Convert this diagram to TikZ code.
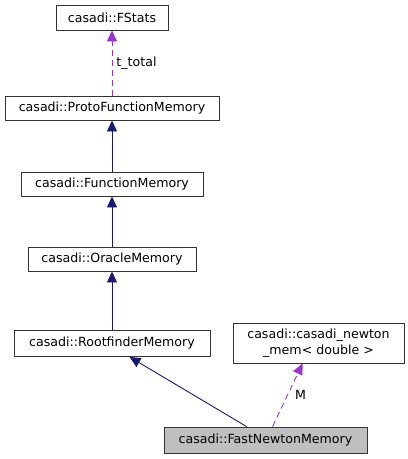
\documentclass[tikz,border=0pt]{standalone}
\usepackage{fontspec}
\setmainfont{DejaVu Sans}
\usetikzlibrary{arrows.meta,calc}
\definecolor{inh}{HTML}{191970}
\definecolor{use}{HTML}{9A32CD}
\definecolor{hl}{HTML}{BFBFBF}
\tikzset{
  cls/.style={draw=black!80, line width=0.9pt, inner sep=0pt, font=\fontsize{12.6}{15.5}\selectfont, align=center},
  inhedge/.style={draw=inh, line width=0.9pt, -{Triangle[length=11pt,width=10pt]}},
  useedge/.style={draw=use, line width=0.9pt, dash pattern=on 6pt off 4pt, -{Triangle[length=11pt,width=10pt]}},
  lbl/.style={font=\fontsize{12.6}{15}\selectfont, inner sep=1pt}
}
\begin{document}
\begin{tikzpicture}[x=1pt,y=-1pt]
\useasboundingbox (0,0) rectangle (408,459);
\node[cls, minimum width=112pt, minimum height=25pt] (fs) at (112,17.5) {casadi::FStats};
\node[cls, minimum width=214pt, minimum height=24pt] (pf) at (112,108) {casadi::ProtoFunctionMemory};
\node[cls, minimum width=182pt, minimum height=24pt] (fm) at (112,184) {casadi::FunctionMemory};
\node[cls, minimum width=168pt, minimum height=24pt] (om) at (112,259) {casadi::OracleMemory};
\node[cls, minimum width=196pt, minimum height=26pt] (rf) at (112,343.5) {casadi::RootfinderMemory};
\node[cls, minimum width=171pt, minimum height=40pt] (nm) at (318.5,343) {casadi::casadi\_newton\\\_mem< double >};
\node[cls, fill=hl, minimum width=203pt, minimum height=26pt] (fn) at (265.5,440) {casadi::FastNewtonMemory};

\draw[useedge] (pf.north) -- node[lbl, right, pos=0.5, xshift=3pt] {t\_total} (fs.south);
\draw[inhedge] (fm.north) -- (pf.south);
\draw[inhedge] (om.north) -- (fm.south);
\draw[inhedge] (rf.north) -- (om.south);
\coordinate (fnA) at ($(fn.north west)+(83,0)$);
\coordinate (fnB) at ($(fn.north west)+(109,0)$);
\coordinate (rfT) at ($(rf.south west)+(116,0)$);
\coordinate (nmT) at ($(nm.south west)+(70,0)$);
\draw[inhedge] (fnA) -- (rfT);
\draw[useedge] (fnB) -- node[lbl, right, pos=0.5, xshift=6pt] {M} (nmT);
\end{tikzpicture}
\end{document}
